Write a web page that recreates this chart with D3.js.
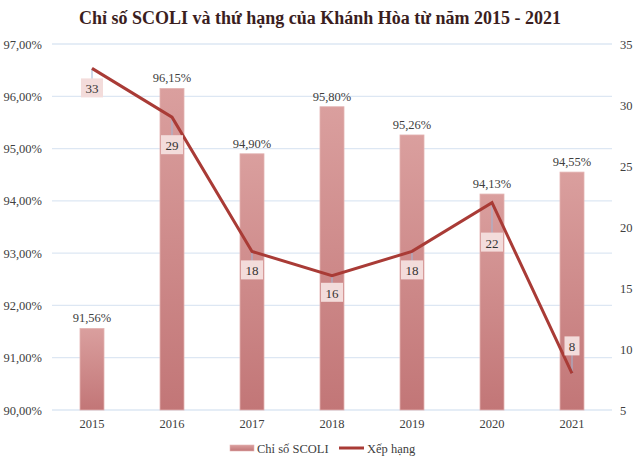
<html>
<head>
<meta charset="utf-8">
<script src="https://cdn.jsdelivr.net/npm/d3@7"></script>
<style>
  body { margin: 0; background: #fff; }
  svg text { font-family: "Liberation Serif", "DejaVu Serif", serif; }
</style>
</head>
<body>
<div id="chart"></div>
<script>
// data
var years = ["2015", "2016", "2017", "2018", "2019", "2020", "2021"];
var scoli = [91.56, 96.15, 94.90, 95.80, 95.26, 94.13, 94.55];
var rank = [33, 29, 18, 16, 18, 22, 8];
var leftTicks = [90, 91, 92, 93, 94, 95, 96, 97];
var rightTicks = [5, 10, 15, 20, 25, 30, 35];
// where each rank label sits relative to its point (px, + is below)
var rankLabelDy = [20, 28, 19, 17, 19, 40, -27];

var width = 640, height = 463;
var plot = { left: 52, right: 612, top: 44, bottom: 410 };
var serif = "'Liberation Serif', 'DejaVu Serif', serif";

var svg = d3.select("#chart").append("svg")
  .attr("width", width).attr("height", height);

var defs = svg.append("defs");
var grad = defs.append("linearGradient").attr("id", "barFill")
  .attr("x1", 0).attr("y1", 0).attr("x2", 0).attr("y2", 1);
grad.append("stop").attr("offset", "0%").attr("stop-color", "#da9f9e");
grad.append("stop").attr("offset", "100%").attr("stop-color", "#c27677");

var x = d3.scaleBand().domain(years).range([plot.left, plot.right]);
var yL = d3.scaleLinear().domain([90, 97]).range([plot.bottom, plot.top]);
var yR = d3.scaleLinear().domain([5, 35]).range([plot.bottom, plot.top]);

// title
svg.append("text")
  .attr("x", 320).attr("y", 24)
  .attr("text-anchor", "middle")
  .style("font-size", "18px").style("font-weight", "bold")
  .style("fill", "#3b1e1e")
  .text("Chỉ số SCOLI và thứ hạng của Khánh Hòa từ năm 2015 - 2021");

// grid lines
svg.append("g").selectAll("line")
  .data(leftTicks).enter().append("line")
  .attr("x1", plot.left).attr("x2", plot.right)
  .attr("y1", function (d) { return yL(d); })
  .attr("y2", function (d) { return yL(d); })
  .style("stroke", "#dde7f3").style("stroke-width", 1.3);

function styleAxis(g) {
  g.select(".domain").remove();
  g.attr("font-family", serif);
  g.selectAll("text").style("font-size", "12.5px").style("fill", "#404040")
    .style("font-family", serif);
}

// left axis
var fmtPct = function (d) { return d.toFixed(2).replace(".", ",") + "%"; };
svg.append("g").attr("transform", "translate(" + plot.left + ",0)")
  .call(d3.axisLeft(yL).tickValues(leftTicks).tickFormat(fmtPct).tickSize(0).tickPadding(10))
  .call(styleAxis);

// right axis
svg.append("g").attr("transform", "translate(" + plot.right + ",0)")
  .call(d3.axisRight(yR).tickValues(rightTicks).tickSize(0).tickPadding(8))
  .call(styleAxis);

// bottom axis
svg.append("g").attr("transform", "translate(0," + plot.bottom + ")")
  .call(d3.axisBottom(x).tickSize(0).tickPadding(9))
  .call(styleAxis);

// bars
var barW = 24;
var cx = function (i) { return x(years[i]) + x.bandwidth() / 2; };
svg.append("g").selectAll("rect")
  .data(scoli).enter().append("rect")
  .attr("x", function (d, i) { return cx(i) - barW / 2; })
  .attr("y", function (d) { return yL(d); })
  .attr("width", barW)
  .attr("height", function (d) { return plot.bottom - yL(d); })
  .style("fill", "url(#barFill)")
  .style("stroke", "#e3b3b2").style("stroke-width", 0.8);

// bar labels
svg.append("g").selectAll("text")
  .data(scoli).enter().append("text")
  .attr("x", function (d, i) { return cx(i); })
  .attr("y", function (d) { return yL(d) - 6; })
  .attr("text-anchor", "middle")
  .style("font-size", "12.5px").style("fill", "#404040")
  .style("font-family", serif)
  .text(fmtPct);

// rank line
var line = d3.line()
  .x(function (d, i) { return cx(i); })
  .y(function (d) { return yR(d); });

// leader lines
svg.append("g").selectAll("line")
  .data(rank).enter().append("line")
  .attr("x1", function (d, i) { return cx(i); })
  .attr("x2", function (d, i) { return cx(i); })
  .attr("y1", function (d) { return yR(d); })
  .attr("y2", function (d, i) { return yR(d) + rankLabelDy[i]; })
  .style("stroke", "#9fb6d6").style("stroke-width", 1);

svg.append("path")
  .datum(rank)
  .attr("d", line)
  .style("fill", "none")
  .style("stroke", "#a93b36")
  .style("stroke-width", 3);

// rank labels
var lab = svg.append("g").selectAll("g")
  .data(rank).enter().append("g")
  .attr("transform", function (d, i) {
    return "translate(" + cx(i) + "," + (yR(d) + rankLabelDy[i]) + ")";
  });
lab.append("rect")
  .attr("x", function (d) { return -(String(d).length * 7 + 8) / 2; })
  .attr("y", -10)
  .attr("width", function (d) { return String(d).length * 7 + 8; })
  .attr("height", 19)
  .style("fill", "#f3dcdb");
lab.append("text")
  .attr("text-anchor", "middle")
  .attr("y", 5)
  .style("font-size", "13px").style("fill", "#333")
  .style("font-family", serif)
  .text(function (d) { return d; });

// legend
var leg = svg.append("g").attr("transform", "translate(0,448)");
leg.append("rect").attr("x", 230).attr("y", -3).attr("width", 24).attr("height", 6)
  .style("fill", "url(#barFill)").style("stroke", "#e3b3b2").style("stroke-width", 0.6);
leg.append("text").attr("x", 257).attr("y", 4.5)
  .style("font-size", "12.5px").style("fill", "#404040").style("font-family", serif)
  .text("Chỉ số SCOLI");
leg.append("line").attr("x1", 339).attr("x2", 364).attr("y1", 0).attr("y2", 0)
  .style("stroke", "#a93b36").style("stroke-width", 3);
leg.append("text").attr("x", 367).attr("y", 4.5)
  .style("font-size", "12.5px").style("fill", "#404040").style("font-family", serif)
  .text("Xếp hạng");
</script>
</body>
</html>
